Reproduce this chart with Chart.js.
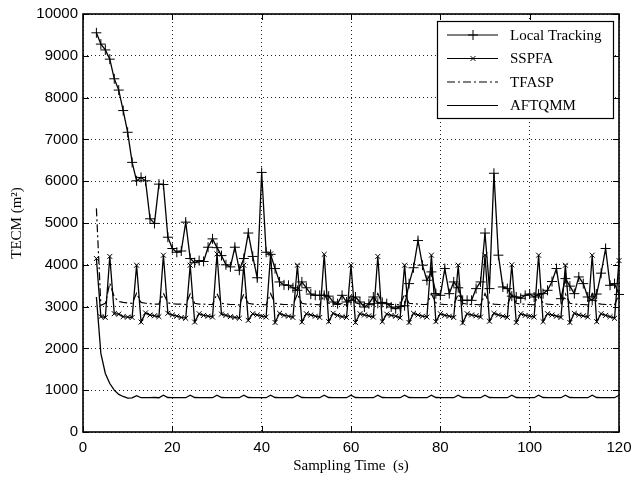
<!DOCTYPE html>
<html>
<head>
<meta charset="utf-8">
<script src="https://cdn.jsdelivr.net/npm/chart.js@4.4.1/dist/chart.umd.min.js"></script>
<style>
  html, body { margin: 0; padding: 0; background: #fff; }
  #wrap { width: 639px; height: 479px; }
</style>
</head>
<body>
<div id="wrap"><canvas id="chart" width="639" height="479"></canvas></div>
<script>
// sampling instants (s)
const samplingTime = [
  3,4,5,6,7,8,9,10,11,12,13,14,15,16,17,18,19,20,21,22,23,24,25,26,27,28,29,30,
  31,32,33,34,35,36,37,38,39,40,41,42,43,44,45,46,47,48,49,50,51,52,53,54,55,56,57,58,59,60,
  61,62,63,64,65,66,67,68,69,70,71,72,73,74,75,76,77,78,79,80,81,82,83,84,85,86,87,88,89,90,
  91,92,93,94,95,96,97,98,99,100,101,102,103,104,105,106,107,108,109,110,111,112,113,114,115,116,117,118,119,120
]

const localTracking = [
  9550,9280,9140,8920,8450,8180,7690,7170,6450,6010,6090,6010,5100,4990,5930,5920,4660,4390,4300,4330,
  5020,4150,4050,4100,4080,4420,4620,4410,4220,4000,3950,4420,3870,4150,4760,4200,3690,6210,4300,4250,
  3910,3590,3520,3510,3450,3390,3590,3450,3300,3270,3270,3270,3250,3110,3070,3270,3110,3150,3230,3110,
  2990,3070,3230,3080,3100,3070,2990,2950,3000,3020,3550,3930,4580,3990,3630,3830,3310,3270,3910,3310,
  3590,3450,3150,3150,3150,3430,3590,4760,3430,6190,4230,3470,3430,3250,3230,3200,3270,3300,3230,3300,
  3310,3390,3600,3910,3190,3670,3490,3310,3710,3550,3230,3150,3300,3800,4390,3510,3550,3290
]

const sspfa = [
  4150,2760,2740,4200,2830,2820,2760,2750,2740,3990,2630,2850,2800,2780,2760,4230,2840,2800,2770,2740,
  2720,3990,2630,2830,2790,2770,2750,4260,2820,2790,2760,2740,2720,3990,2670,2830,2800,2770,2750,4260,
  2620,2840,2790,2770,2740,3990,2630,2830,2800,2770,2740,4250,2640,2840,2790,2760,2740,3990,2620,2830,
  2800,2780,2750,4200,2640,2820,2790,2770,2730,3990,2620,2840,2800,2770,2750,4230,2640,2830,2790,2770,
  2740,3990,2610,2830,2800,2780,2750,4230,2650,2840,2800,2770,2740,4000,2620,2830,2790,2770,2750,4230,
  2640,2830,2800,2770,2740,3990,2620,2840,2800,2780,2750,4230,2640,2830,2790,2760,2720,4100
]

const tfasp = [
  5350,3030,3080,3560,3230,3120,3100,3090,3080,3320,3100,3080,3070,3060,3060,3320,3090,3070,3060,3060,
  3050,3300,3080,3060,3060,3050,3050,3310,3080,3060,3050,3050,3040,3300,3080,3060,3050,3050,3040,3310,
  3080,3060,3050,3050,3040,3300,3080,3060,3060,3050,3040,3310,3080,3060,3050,3050,3040,3300,3090,3060,
  3050,3050,3040,3310,3080,3060,3050,3050,3040,3300,3080,3070,3060,3050,3050,3310,3090,3060,3050,3050,
  3040,3300,3080,3060,3050,3050,3040,3310,3080,3060,3050,3050,3040,3300,3080,3060,3060,3050,3040,3310,
  3080,3060,3050,3050,3040,3300,3080,3060,3050,3050,3040,3310,3080,3060,3050,3050,3040,3300
]

const aftqmm = [
  3230,1880,1400,1160,1000,900,850,810,815,870,820,820,820,825,820,880,825,820,820,820,
  820,880,825,820,820,820,820,880,825,820,820,820,820,880,825,820,820,820,820,880,
  825,820,820,820,820,880,825,820,820,820,820,880,825,820,820,820,820,880,825,820,
  820,820,820,880,825,820,820,820,820,880,825,820,820,820,820,880,825,820,820,820,
  820,880,825,820,820,820,820,880,825,820,820,820,820,880,825,820,820,820,820,880,
  825,820,820,820,820,880,825,820,820,820,820,880,825,820,820,820,820,880
]

const xTicks = [0, 20, 40, 60, 80, 100, 120]
const seriesNames = ["Local Tracking", "SSPFA", "TFASP", "AFTQMM"]

const pts = arr => arr.map((v, i) => ({ x: samplingTime[i], y: v }))

// matlab-like frame with inward ticks
const framePlugin = {
  id: "frame",
  afterDatasetsDraw(chart) {
    const { ctx, chartArea: a, scales: { x, y } } = chart
    ctx.save()
    ctx.strokeStyle = "#000"
    ctx.lineWidth = 1
    const t = 6
    ctx.beginPath()
    x.ticks.forEach(tk => {
      const px = Math.round(x.getPixelForValue(tk.value)) + 0.5
      ctx.moveTo(px, a.bottom); ctx.lineTo(px, a.bottom - t)
      ctx.moveTo(px, a.top); ctx.lineTo(px, a.top + t)
    })
    y.ticks.forEach(tk => {
      const py = Math.round(y.getPixelForValue(tk.value)) + 0.5
      ctx.moveTo(a.left, py); ctx.lineTo(a.left + t, py)
      ctx.moveTo(a.right, py); ctx.lineTo(a.right - t, py)
    })
    ctx.stroke()
    ctx.lineWidth = 1.6
    ctx.strokeRect(a.left, a.top, a.right - a.left, a.bottom - a.top)
    ctx.restore()
  }
}

// legend box drawn like the original figure
const legendPlugin = {
  id: "boxLegend",
  afterDraw(chart) {
    const { ctx } = chart
    const bx = 437, by = 21, bw = 176, bh = 97
    ctx.save()
    ctx.fillStyle = "#fff"
    ctx.fillRect(bx, by, bw, bh)
    ctx.strokeStyle = "#000"
    ctx.lineWidth = 1.2
    ctx.strokeRect(bx + 0.5, by + 0.5, bw, bh)
    ctx.font = "15px 'Liberation Serif', 'Times New Roman', serif"
    ctx.textBaseline = "middle"
    ctx.fillStyle = "#000"
    chart.data.datasets.forEach((ds, i) => {
      const ry = by + 14 + i * 23.5
      ctx.lineWidth = 1.2
      ctx.setLineDash(ds.borderDash || [])
      ctx.beginPath()
      ctx.moveTo(bx + 10, ry); ctx.lineTo(bx + 61, ry)
      ctx.stroke()
      ctx.setLineDash([])
      const cx = bx + 36, r = ds.pointRadius
      if (r > 0) {
        ctx.lineWidth = 1
        ctx.beginPath()
        if (ds.pointStyle === "cross") {
          ctx.moveTo(cx, ry - r); ctx.lineTo(cx, ry + r)
          ctx.moveTo(cx - r, ry); ctx.lineTo(cx + r, ry)
        } else {
          const d = r * 0.7
          ctx.moveTo(cx - d, ry - d); ctx.lineTo(cx + d, ry + d)
          ctx.moveTo(cx + d, ry - d); ctx.lineTo(cx - d, ry + d)
        }
        ctx.stroke()
      }
      ctx.fillText(ds.label, bx + 73, ry + 1)
    })
    ctx.restore()
  }
}

const tickFont  = { family: "'Liberation Sans', Arial, sans-serif", size: 15 }
const titleFont = { family: "'Liberation Serif', 'Times New Roman', serif", size: 15 }

new Chart(document.getElementById("chart"), {
  type: "line",
  data: {
    datasets: [
      { label: seriesNames[0], data: pts(localTracking), borderColor: "#000", borderWidth: 1.3,
        pointStyle: "cross", pointRadius: 5, pointBorderColor: "#000", pointBorderWidth: 1, clip: false },
      { label: seriesNames[1], data: pts(sspfa), borderColor: "#000", borderWidth: 1.3,
        pointStyle: "crossRot", pointRadius: 3.5, pointBorderColor: "#000", pointBorderWidth: 1, clip: false },
      { label: seriesNames[2], data: pts(tfasp), borderColor: "#000", borderWidth: 1.2,
        borderDash: [8, 3, 2, 3], pointRadius: 0, clip: false },
      { label: seriesNames[3], data: pts(aftqmm), borderColor: "#000", borderWidth: 1.3,
        pointRadius: 0, clip: false }
    ]
  },
  options: {
    responsive: false,
    animation: false,
    events: [],
    layout: { padding: { left: 0, right: 20, top: 13, bottom: 0 } },
    plugins: { legend: { display: false }, tooltip: { enabled: false } },
    scales: {
      x: {
        type: "linear", min: 0, max: 120,
        afterBuildTicks: s => { s.ticks = xTicks.map(v => ({ value: v })) },
        afterFit: s => { s.height = 47 },
        ticks: { font: tickFont, color: "#000", padding: 7, maxRotation: 0, callback: v => String(v) },
        grid: { color: "#222", lineWidth: 1, drawTicks: false },
        border: { display: false, dash: [1, 3] },
        title: { display: true, text: "Sampling Time  (s)", font: titleFont, color: "#000", padding: { top: 0, bottom: 4 } }
      },
      y: {
        min: 0, max: 10000,
        afterFit: s => { s.width = 83 },
        ticks: { stepSize: 1000, font: tickFont, color: "#000", padding: 5, callback: v => String(v) },
        grid: { color: "#222", lineWidth: 1, drawTicks: false },
        border: { display: false, dash: [1, 3] },
        title: { display: true, text: "TECM (m²)", font: titleFont, color: "#000", padding: { top: 8, bottom: 0 } }
      }
    }
  },
  plugins: [framePlugin, legendPlugin]
})
</script>
</body>
</html>
